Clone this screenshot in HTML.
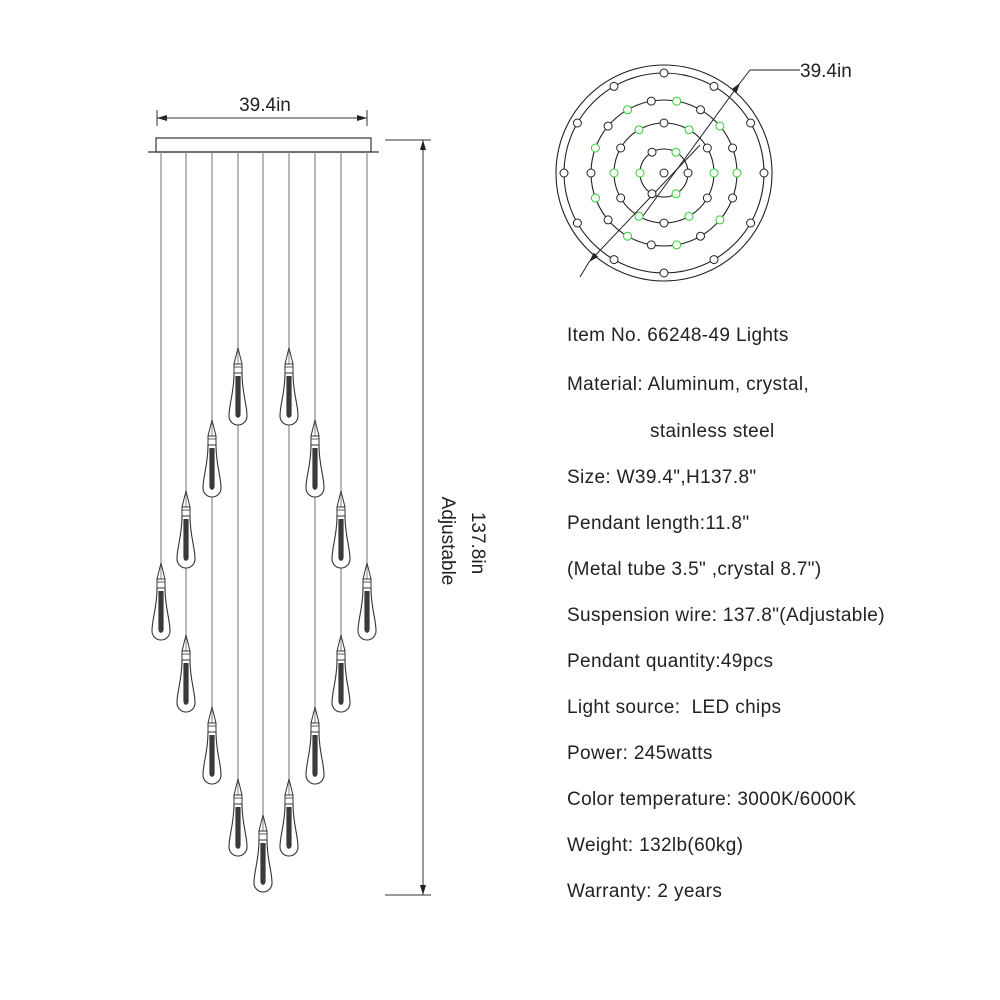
<!DOCTYPE html>
<html><head><meta charset="utf-8"><style>
html,body{margin:0;padding:0;background:#fff;}
svg{display:block;}
text{font-family:"Liberation Sans",sans-serif;fill:#222;}
</style></head><body>
<svg width="1000" height="1000" viewBox="0 0 1000 1000" xmlns="http://www.w3.org/2000/svg">
<defs>
<g id="p">
<path d="M0,0 L-4,16 L4,16 Z" fill="#fff" stroke="#333" stroke-width="1"/>
<line x1="0" y1="2" x2="0" y2="16" stroke="#666" stroke-width="0.8"/>
<rect x="-4" y="16" width="8" height="9" fill="#fff" stroke="#333" stroke-width="1"/>
<line x1="-4" y1="19" x2="4" y2="19" stroke="#333" stroke-width="0.8"/>
<path d="M-4,25 C-4,45 -9,56 -9,68 A9,9 0 0 0 9,68 C9,56 4,45 4,25 Z" fill="#fff" stroke="#333" stroke-width="1.1"/>
<path d="M-2.6,28 L2.6,28 L2.6,66 C2.6,71 -2.6,71 -2.6,66 Z" fill="#3a3a3a"/>
</g>
<marker id="a" markerWidth="10" markerHeight="6" refX="10" refY="3" orient="auto" markerUnits="userSpaceOnUse"><path d="M0,0 L10,3 L0,6 Z" fill="#222"/></marker>
</defs>
<line x1="157" y1="110" x2="157" y2="126" stroke="#333"/>
<line x1="367" y1="110" x2="367" y2="126" stroke="#333"/>
<line x1="167" y1="118" x2="157" y2="118" stroke="#333" marker-end="url(#a)"/>
<line x1="160" y1="118" x2="367" y2="118" stroke="#333" marker-end="url(#a)"/>
<text x="265" y="111" font-size="19" text-anchor="middle">39.4in</text>
<rect x="156" y="138" width="215" height="14" fill="#fff" stroke="#333" stroke-width="1.2"/>
<line x1="148" y1="152" x2="379" y2="152" stroke="#333" stroke-width="1.2"/>
<g stroke="#888" stroke-width="1.2">
<line x1="161" y1="152" x2="161" y2="563"/>
<line x1="186" y1="152" x2="186" y2="635"/>
<line x1="212" y1="152" x2="212" y2="707"/>
<line x1="238" y1="152" x2="238" y2="779"/>
<line x1="263" y1="152" x2="263" y2="815"/>
<line x1="289" y1="152" x2="289" y2="779"/>
<line x1="315" y1="152" x2="315" y2="707"/>
<line x1="341" y1="152" x2="341" y2="635"/>
<line x1="367" y1="152" x2="367" y2="563"/>
</g>
<use href="#p" x="238" y="348"/><use href="#p" x="289" y="348"/>
<use href="#p" x="212" y="420"/><use href="#p" x="315" y="420"/>
<use href="#p" x="186" y="491"/><use href="#p" x="341" y="491"/>
<use href="#p" x="161" y="563"/><use href="#p" x="367" y="563"/>
<use href="#p" x="186" y="635"/><use href="#p" x="341" y="635"/>
<use href="#p" x="212" y="707"/><use href="#p" x="315" y="707"/>
<use href="#p" x="238" y="779"/><use href="#p" x="289" y="779"/>
<use href="#p" x="263" y="815"/>
<line x1="385" y1="140" x2="431" y2="140" stroke="#333"/>
<line x1="385" y1="895" x2="431" y2="895" stroke="#333"/>
<line x1="423" y1="517" x2="423" y2="140" stroke="#333" marker-end="url(#a)"/>
<line x1="423" y1="517" x2="423" y2="895" stroke="#333" marker-end="url(#a)"/>
<text transform="translate(472,543) rotate(90)" font-size="19" text-anchor="middle">137.8in</text>
<text transform="translate(442,541) rotate(90)" font-size="19" text-anchor="middle">Adjustable</text>
<g fill="none" stroke="#222" stroke-width="1.1">
<circle cx="664" cy="173" r="108"/>
<circle cx="664" cy="173" r="100"/>
<circle cx="664" cy="173" r="73"/>
<circle cx="664" cy="173" r="50"/>
<circle cx="664" cy="173" r="24"/>
</g>
<line x1="580" y1="277" x2="589" y2="262" stroke="#222"/>
<line x1="700" y1="145" x2="589" y2="262" stroke="#222" marker-end="url(#a)"/>
<line x1="640" y1="220" x2="740" y2="83" stroke="#222" marker-end="url(#a)"/>
<line x1="740" y1="83" x2="750" y2="70" stroke="#222"/>
<line x1="750" y1="70" x2="800" y2="70" stroke="#222"/>
<text x="800" y="77" font-size="19">39.4in</text>
<g font-size="19" letter-spacing="0.35">
<text x="567" y="341">Item No. 66248-49 Lights</text>
<text x="567" y="390">Material: Aluminum, crystal,</text>
<text x="650" y="437">stainless steel</text>
<text x="567" y="483">Size: W39.4",H137.8"</text>
<text x="567" y="529">Pendant length:11.8"</text>
<text x="567" y="575">(Metal tube 3.5" ,crystal 8.7")</text>
<text x="567" y="621">Suspension wire: 137.8"(Adjustable)</text>
<text x="567" y="667">Pendant quantity:49pcs</text>
<text x="567" y="713">Light source:&#160; LED chips</text>
<text x="567" y="759">Power: 245watts</text>
<text x="567" y="805">Color temperature: 3000K/6000K</text>
<text x="567" y="851">Weight: 132lb(60kg)</text>
<text x="567" y="897">Warranty: 2 years</text>
</g>
<g fill="#fff" stroke-width="1">
<circle cx="664" cy="173" r="4" stroke="#222"/>
<circle cx="688" cy="173" r="4" stroke="#222"/>
<circle cx="676" cy="152.2" r="4" stroke="#3c3"/>
<circle cx="652" cy="152.2" r="4" stroke="#222"/>
<circle cx="640" cy="173" r="4" stroke="#3c3"/>
<circle cx="652" cy="193.8" r="4" stroke="#222"/>
<circle cx="676" cy="193.8" r="4" stroke="#3c3"/>
<circle cx="714" cy="173" r="4" stroke="#3c3"/>
<circle cx="707.3" cy="148" r="4" stroke="#222"/>
<circle cx="689" cy="129.7" r="4" stroke="#3c3"/>
<circle cx="664" cy="123" r="4" stroke="#222"/>
<circle cx="639" cy="129.7" r="4" stroke="#3c3"/>
<circle cx="620.7" cy="148" r="4" stroke="#222"/>
<circle cx="614" cy="173" r="4" stroke="#3c3"/>
<circle cx="620.7" cy="198" r="4" stroke="#222"/>
<circle cx="639" cy="216.3" r="4" stroke="#3c3"/>
<circle cx="664" cy="223" r="4" stroke="#222"/>
<circle cx="689" cy="216.3" r="4" stroke="#3c3"/>
<circle cx="707.3" cy="198" r="4" stroke="#222"/>
<circle cx="737" cy="173" r="4" stroke="#3c3"/>
<circle cx="732.6" cy="148" r="4" stroke="#222"/>
<circle cx="719.9" cy="126.1" r="4" stroke="#3c3"/>
<circle cx="700.5" cy="109.8" r="4" stroke="#222"/>
<circle cx="676.7" cy="101.1" r="4" stroke="#3c3"/>
<circle cx="651.3" cy="101.1" r="4" stroke="#222"/>
<circle cx="627.5" cy="109.8" r="4" stroke="#3c3"/>
<circle cx="608.1" cy="126.1" r="4" stroke="#222"/>
<circle cx="595.4" cy="148" r="4" stroke="#3c3"/>
<circle cx="591" cy="173" r="4" stroke="#222"/>
<circle cx="595.4" cy="198" r="4" stroke="#3c3"/>
<circle cx="608.1" cy="219.9" r="4" stroke="#222"/>
<circle cx="627.5" cy="236.2" r="4" stroke="#3c3"/>
<circle cx="651.3" cy="244.9" r="4" stroke="#222"/>
<circle cx="676.7" cy="244.9" r="4" stroke="#3c3"/>
<circle cx="700.5" cy="236.2" r="4" stroke="#222"/>
<circle cx="719.9" cy="219.9" r="4" stroke="#3c3"/>
<circle cx="732.6" cy="198" r="4" stroke="#222"/>
<circle cx="764" cy="173" r="4" stroke="#222"/>
<circle cx="750.6" cy="123" r="4" stroke="#222"/>
<circle cx="714" cy="86.4" r="4" stroke="#222"/>
<circle cx="664" cy="73" r="4" stroke="#222"/>
<circle cx="614" cy="86.4" r="4" stroke="#222"/>
<circle cx="577.4" cy="123" r="4" stroke="#222"/>
<circle cx="564" cy="173" r="4" stroke="#222"/>
<circle cx="577.4" cy="223" r="4" stroke="#222"/>
<circle cx="614" cy="259.6" r="4" stroke="#222"/>
<circle cx="664" cy="273" r="4" stroke="#222"/>
<circle cx="714" cy="259.6" r="4" stroke="#222"/>
<circle cx="750.6" cy="223" r="4" stroke="#222"/>
</g>
</svg>
</body></html>
